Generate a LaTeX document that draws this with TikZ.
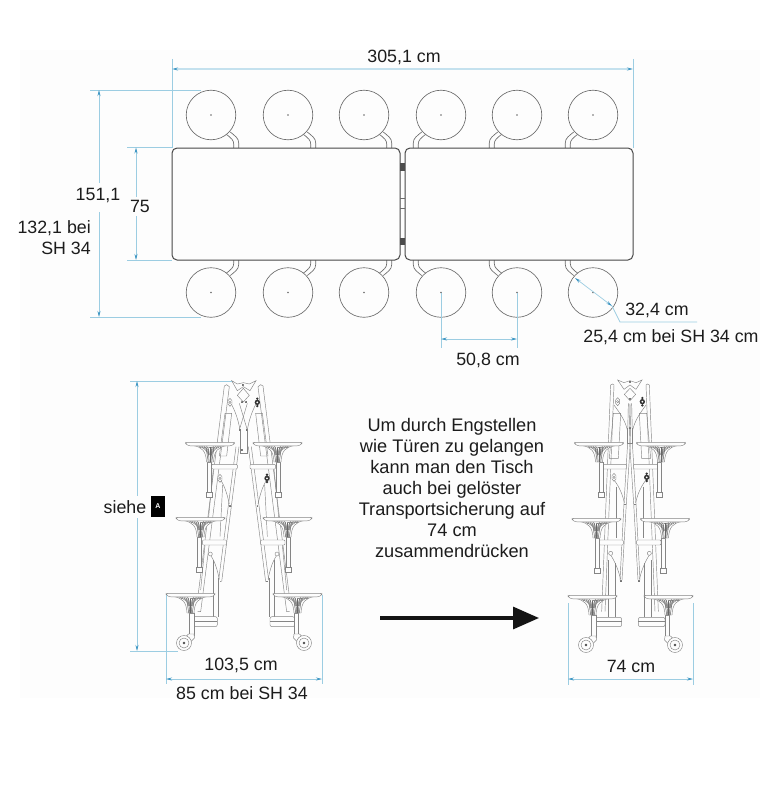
\documentclass[tikz,border=0pt]{standalone}
\usepackage{fontspec}
\setmainfont{Liberation Sans}
\usetikzlibrary{arrows.meta}
\definecolor{dimblue}{HTML}{9CCDE2}
\definecolor{tipblue}{HTML}{3F97C4}
\definecolor{plangray}{HTML}{6A6A6A}
\definecolor{textgray}{HTML}{1C1C1C}
\definecolor{paper}{HTML}{FDFDFD}
\tikzset{
    dimline/.style={draw=dimblue, line width=0.7pt},
    dimarrow/.style={dimline, {Stealth[length=6pt,width=3pt,color=tipblue]}-{Stealth[length=6pt,width=3pt,color=tipblue]}},
    dimstart/.style={dimline, {Stealth[length=6pt,width=3pt,color=tipblue]}-},
    dimlabel/.style={text=textgray, font=\fontsize{17.8}{21}\selectfont, inner sep=0pt},
    planline/.style={draw=plangray, line width=0.65pt},
    tableline/.style={draw=black!72, line width=1pt, rounded corners=5pt, fill=paper},
    frameline/.style={draw=black!48, line width=0.45pt},
    % seat of the plan view with its arm, arm towards +x and +y
    planseat/.pic={
        \draw[planline] (19.3,17) .. controls (24,21) and (27.7,23) .. (27.7,28) -- (27.7,33);
        \draw[planline] (15.3,19.3) .. controls (20,23) and (22.7,25) .. (22.7,29) -- (22.7,33);
        \draw[planline, fill=paper] (0,0) circle (24.8);
        \fill[plangray] (0,0) circle (0.9);
    },
    % side view of a seat, origin on top of the seat
    stoolseat/.pic={
        \draw[frameline, fill=paper] (-17,3.5) .. controls (-8,5) and (-4,9) .. (-3.5,20) -- (3.5,20) .. controls (4,9) and (8,5) .. (17,3.5) -- cycle;
        \foreach \rib in {-13,-10,-7,-4,4,7,10,13}
            \draw[frameline] (\rib,3.5) .. controls ({\rib*0.45},5.5) and ({\rib*0.2},9) .. ({\rib*0.13},13);
        \foreach \rib in {-2.5,-1.2,0,1.2,2.5}
            \draw[black!60, line width=0.5pt] (\rib*1.6,5) -- (\rib*0.7,20);
        \draw[black!45, line width=0.9pt, dash pattern=on 0.8pt off 1pt] (-10,5) -- (10,5);
        \draw[frameline, fill=paper, rounded corners=1.2pt] (-24.3,0.3) -- (24.3,0.3) -- (24.3,2) -- (21,3.8) -- (-21,3.8) -- (-24.3,2) -- cycle;
    },
    footleg/.pic={
        \draw[frameline, fill=paper] (-2,20) rectangle (2,50);
        \draw[frameline, fill=paper] (-3,50) rectangle (3,55.5);
    },
    wheelleg/.pic={
        \draw[frameline, fill=paper] (-1,20) rectangle (3.5,42);
        \draw[frameline, fill=paper] (-2,41) -- (3.5,41) -- (4,45) -- (-3,52) -- (-7,46) -- cycle;
        \draw[frameline, fill=paper] (-6.5,50) circle (7.5);
        \draw[frameline] (-6.5,50) circle (5);
        \fill[black!70] (-6.5,50) circle (1.4);
    },
    pivot/.pic={
        \fill[black!55] (-5,-5) rectangle (5,5);
        \fill[black!20] (0,0) circle (2);
    },
    % half of the open frame, coordinates at 1/3 px
    framewide/.pic={
        % rails
        \draw[frameline] (283,48) -- (290,44) -- (298,50);
        \draw[frameline] (283,48) -- (205,670);
        \draw[frameline] (298,50) -- (212,725) -- (203,725);
        \draw[frameline] (285,130) -- (268,258) -- (290,258) -- (305,130) -- cycle;
        % long struts
        \draw[frameline] (327,230) -- (275,635);
        \draw[frameline] (318,230) -- (266,630);
        \draw[frameline] (250,297) -- (235,450);
        \draw[frameline] (225,525) -- (212,660);
        % links
        \draw[frameline] (272,330) .. controls (285,350) and (292,375) .. (298,402);
        \draw[frameline] (278,345) -- (270,500);
        \draw[frameline] (243,558) .. controls (255,575) and (262,600) .. (268,628);
        \draw[frameline] (250,570) -- (250,742);
        \draw[frameline] (265,625) -- (265,742);
        \draw[frameline] (300,95) .. controls (315,120) and (325,150) .. (330,180);
        % boxes
        \draw[frameline, fill=paper, rounded corners=1pt] (245,283) rectangle (322,297);
        \draw[frameline, fill=paper, rounded corners=1pt] (217,510) rectangle (290,525);
        \draw[frameline, fill=paper, rounded corners=2pt] (188,740) rectangle (262,770);
        \draw[frameline] (188,755) -- (262,755);
        \pic[scale=0.5] at (300,407) {pivot};
        \pic[scale=0.5] at (271,634) {pivot};
        \draw[frameline, fill=paper] (241,552) circle (6);
    },
    % half of the closed frame
    framenarrow/.pic={
        \draw[frameline] (182,45) -- (188,42) -- (192,45);
        \draw[frameline] (182,45) -- (155,725);
        \draw[frameline] (192,45) -- (165,725);
        \draw[frameline] (190,130) -- (178,265) -- (205,265) -- (212,130) -- cycle;
        \draw[frameline] (235,100) -- (232,235) -- (222,400) -- (210,630);
        \draw[frameline] (243,100) -- (240,235) -- (229,400) -- (216,630);
        \draw[frameline] (192,105) .. controls (210,130) and (225,150) .. (232,180);
        \draw[frameline] (192,330) .. controls (208,350) and (218,375) .. (223,398);
        \draw[frameline] (200,350) -- (200,505);
        \draw[frameline] (182,555) .. controls (195,575) and (205,600) .. (212,628);
        \draw[frameline] (175,570) -- (175,742);
        \draw[frameline] (197,580) -- (197,742);
        \draw[frameline, fill=paper, rounded corners=1pt] (155,283) rectangle (230,297);
        \draw[frameline, fill=paper, rounded corners=1pt] (147,510) rectangle (220,525);
        \draw[frameline, fill=paper, rounded corners=2pt] (135,742) rectangle (215,770);
        \draw[frameline] (135,755) -- (215,755);
        \pic[scale=0.5] at (225,403) {pivot};
        \pic[scale=0.5] at (213,632) {pivot};
        \draw[frameline, fill=paper] (182,550) circle (6);
    },
    knoblight/.pic={
        \draw[frameline, fill=paper] (0,-12) -- (6,-5) -- (6,5) -- (0,12) -- (-6,5) -- (-6,-5) -- cycle;
        \draw[frameline] (0,0) circle (3.5);
    },
    knobdark/.pic={
        \fill[black!80] (0,-11) circle (4);
        \fill[black!80] (0,0) circle (8);
        \fill[white] (0,0) circle (3);
        \fill[black!80] (0,11) circle (4);
    }
}
\begin{document}
\begin{tikzpicture}[x=1pt, y=-1pt]
    \useasboundingbox (0,0) rectangle (778,800);
    \fill[white] (0,0) rectangle (778,800);
    \fill[paper] (20,50) rectangle (760,698);

    % Plan view
    \foreach \cx in {211,288,364} {
        \pic at (\cx,115) {planseat};
        \pic[yscale=-1] at (\cx,292.5) {planseat};
    }
    \foreach \cx in {441,517,593} {
        \pic[xscale=-1] at (\cx,115) {planseat};
        \pic[scale=-1] at (\cx,292.5) {planseat};
    }
    \draw[tableline] (172,148) rectangle (400,260);
    \draw[tableline] (405,148) rectangle (633,260);
    \draw[planline] (400,198.5) -- (405,198.5);
    \draw[planline] (400,208.5) -- (405,208.5);
    \fill[black!70] (400.4,163) rectangle (404.6,170.5);
    \fill[black!70] (400.4,237.5) rectangle (404.6,245);

    % Dimensions of the plan view
    \coordinate (lenL) at (172,69);
    \coordinate (lenR) at (633,69);
    \coordinate (lenLtop) at (172,59);
    \coordinate (lenRtop) at (633,59);
    \coordinate (lenLend) at (172,148);
    \coordinate (lenRend) at (633,148);
    \draw[dimline] (lenLtop) -- (lenLend);
    \draw[dimline] (lenRtop) -- (lenRend);
    \draw[dimarrow, draw=dimblue!60, line width=1.3pt] (lenL) -- (lenR);
    \node[dimlabel] (lenText) at (404,57) {305,1 cm};

    \coordinate (depA) at (90,90);
    \coordinate (depB) at (201,90);
    \coordinate (depC) at (90,317);
    \coordinate (depD) at (201,317);
    \coordinate (depUp) at (99,90);
    \coordinate (depUpEnd) at (99,183);
    \coordinate (depDown) at (99,317);
    \coordinate (depDownEnd) at (99,212);
    \draw[dimline] (depA) -- (depB);
    \draw[dimline] (depC) -- (depD);
    \draw[dimstart] (depUp) -- (depUpEnd);
    \draw[dimstart] (depDown) -- (depDownEnd);
    \node[dimlabel] (depText) at (98,196) {151,1};
    \node[dimlabel, align=right, anchor=east] (depLowText) at (91,238) {132,1 bei\\SH 34};

    \coordinate (tabA) at (127,147.5);
    \coordinate (tabB) at (172,147.5);
    \coordinate (tabC) at (127,260);
    \coordinate (tabD) at (172,260);
    \coordinate (tabUp) at (136,147.5);
    \coordinate (tabUpEnd) at (136,197);
    \coordinate (tabDown) at (136,260);
    \coordinate (tabDownEnd) at (136,216);
    \draw[dimline] (tabA) -- (tabB);
    \draw[dimline] (tabC) -- (tabD);
    \draw[dimstart] (tabUp) -- (tabUpEnd);
    \draw[dimstart] (tabDown) -- (tabDownEnd);
    \node[dimlabel] (tabText) at (140,206) {75};

    \coordinate (seatA) at (441,292.5);
    \coordinate (seatB) at (517,292.5);
    \coordinate (seatAend) at (441,348);
    \coordinate (seatBend) at (517,348);
    \coordinate (seatAdim) at (441,339);
    \coordinate (seatBdim) at (517,339);
    \draw[dimline] (seatA) -- (seatAend);
    \draw[dimline] (seatB) -- (seatBend);
    \draw[dimarrow] (seatAdim) -- (seatBdim);
    \node[dimlabel] (seatText) at (488,360) {50,8 cm};

    \coordinate (diaA) at (575,278);
    \coordinate (diaB) at (612,306);
    \coordinate (diaC) at (620,322);
    \coordinate (diaD) at (697,322);
    \draw[dimarrow] (diaA) -- (diaB);
    \draw[dimline] (diaB) -- (diaC) -- (diaD);
    \node[dimlabel] (diaText) at (657,310) {32,4 cm};
    \node[dimlabel] (diaLowText) at (671,337) {25,4 cm bei SH 34 cm};

    % Open table
    \begin{scope}[shift={(130,370)}, x=1/3*1pt, y=-1/3*1pt]
        \pic at (0,0) {framewide};
        \pic[xscale=-1] at (682,0) {framewide};
        % head of the frame
        \draw[frameline] (305,32) -- (322,42) -- (340,38) -- (358,42) -- (378,32) -- (360,62) -- (340,50) -- (322,62) -- cycle;
        \draw[frameline] (340,55) -- (358,76) -- (340,96) -- (322,76) -- cycle;
        \draw[frameline] (328,100) -- (352,180);
        \draw[frameline] (352,100) -- (328,180);
        \draw[frameline, fill=paper] (330,180) -- (330,250) -- (352,250) -- (352,180);
        \pic[scale=0.6] at (340,45) {pivot};
        \pic[scale=0.6] at (335,95) {pivot};
        \pic[scale=0.6] at (347,95) {pivot};
        \pic[scale=0.6] at (330,180) {pivot};
        \pic[scale=0.6] at (352,180) {pivot};
        \pic[scale=0.6] at (337,240) {pivot};
        \pic at (300,97) {knoblight};
        \pic at (270,325) {knoblight};
        \pic at (382,97) {knobdark};
        \pic at (411,325) {knobdark};
    \end{scope}
    \pic at (209,442) {footleg};
    \pic at (210,442) {stoolseat};
    \pic at (278,442) {footleg};
    \pic at (277.5,442) {stoolseat};
    \pic at (199,517) {footleg};
    \pic at (200.5,517) {stoolseat};
    \pic at (288,517) {footleg};
    \pic at (287.5,517) {stoolseat};
    \pic at (190.5,593) {wheelleg};
    \pic at (190.5,593) {stoolseat};
    \pic[xscale=-1] at (297.5,593) {wheelleg};
    \pic at (297.5,593) {stoolseat};

    % Dimensions of the open table
    \coordinate (hghA) at (130,381);
    \coordinate (hghB) at (232,381);
    \coordinate (hghC) at (130,651);
    \coordinate (hghD) at (178,651);
    \coordinate (hghUp) at (137,381);
    \coordinate (hghUpEnd) at (137,496);
    \coordinate (hghDown) at (137,651);
    \coordinate (hghDownEnd) at (137,518);
    \draw[dimline] (hghA) -- (hghB);
    \draw[dimline] (hghC) -- (hghD);
    \draw[dimstart] (hghUp) -- (hghUpEnd);
    \draw[dimstart] (hghDown) -- (hghDownEnd);
    \node[dimlabel] (hghText) at (125,507) {siehe};
    \node[fill=black, text=white, font=\fontsize{7}{8}\selectfont\bfseries, minimum width=14.5pt, minimum height=21pt, inner sep=0pt] (markA) at (158,506.5) {A};

    \coordinate (wideL) at (166,595);
    \coordinate (wideR) at (322,595);
    \coordinate (wideLend) at (166,684);
    \coordinate (wideRend) at (322,684);
    \coordinate (wideLdim) at (166,679);
    \coordinate (wideRdim) at (322,679);
    \draw[dimline] (wideL) -- (wideLend);
    \draw[dimline] (wideR) -- (wideRend);
    \draw[dimarrow] (wideLdim) -- (wideRdim);
    \node[dimlabel] (wideText) at (241,665) {103,5 cm};
    \node[dimlabel] (wideLowText) at (242,693) {85 cm bei SH 34};

    % Note and arrow
    \node[dimlabel, align=center, font=\fontsize{18.2}{21}\selectfont] (noteText) at (452,488) {Um durch Engstellen\\wie Türen zu gelangen\\kann man den Tisch\\auch bei gelöster\\Transportsicherung auf\\74 cm\\zusammendrücken};
    \coordinate (moveA) at (380,618);
    \coordinate (moveB) at (539,618);
    \draw[black!92, line width=3.2pt, -{Triangle[length=26pt,width=22pt]}] (moveA) -- (moveB);

    % Closed table
    \begin{scope}[shift={(550,370)}, x=1/3*1pt, y=-1/3*1pt]
        \pic at (0,0) {framenarrow};
        \pic[xscale=-1] at (480,0) {framenarrow};
        % head of the frame
        \draw[frameline] (203,30) -- (222,38) -- (240,32) -- (258,38) -- (276,30) -- (258,58) -- (240,45) -- (222,58) -- cycle;
        \draw[frameline] (240,55) -- (257,73) -- (240,92) -- (223,73) -- cycle;
        \draw[frameline] (232,175) -- (232,220) -- (248,220) -- (248,175);
        \pic[scale=0.6] at (240,37) {pivot};
        \pic[scale=0.6] at (240,88) {pivot};
        \pic[scale=0.6] at (240,173) {pivot};
        \pic at (203,95) {knoblight};
        \pic at (192,322) {knoblight};
        \pic at (277,95) {knobdark};
        \pic at (290,322) {knobdark};
    \end{scope}
    \pic at (601,442) {footleg};
    \pic at (599,442) {stoolseat};
    \pic at (659,442) {footleg};
    \pic at (661,442) {stoolseat};
    \pic at (597,518) {footleg};
    \pic at (596.5,518) {stoolseat};
    \pic at (663,518) {footleg};
    \pic at (665,518) {stoolseat};
    \pic at (592.5,595) {wheelleg};
    \pic at (592.5,595) {stoolseat};
    \pic[xscale=-1] at (668.5,595) {wheelleg};
    \pic at (668.5,595) {stoolseat};

    % Dimension of the closed table
    \coordinate (nearL) at (568,603);
    \coordinate (nearR) at (693,603);
    \coordinate (nearLend) at (568,685);
    \coordinate (nearRend) at (693,685);
    \coordinate (nearLdim) at (568,679);
    \coordinate (nearRdim) at (693,679);
    \draw[dimline] (nearL) -- (nearLend);
    \draw[dimline] (nearR) -- (nearRend);
    \draw[dimarrow] (nearLdim) -- (nearRdim);
    \node[dimlabel] (nearText) at (631,666) {74 cm};
\end{tikzpicture}
\end{document}
